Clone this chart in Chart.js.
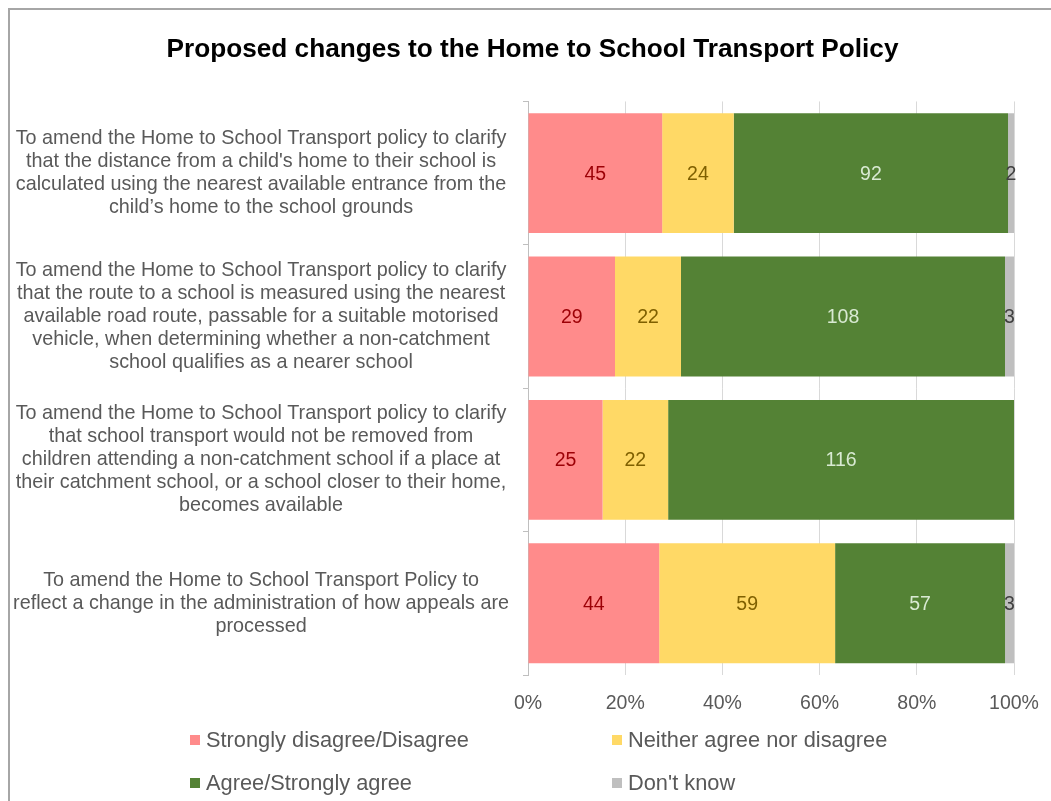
<!DOCTYPE html>
<html>
<head>
<meta charset="utf-8">
<script src="https://cdn.jsdelivr.net/npm/chart.js@4.4.1/dist/chart.umd.min.js"></script>
<style>
  html, body { margin: 0; padding: 0; background: #fff; }
  #wrap { position: relative; width: 1051px; height: 801px; overflow: hidden; }
  #frame { position: absolute; left: 8px; top: 8px; width: 1100px; height: 850px;
           border-left: 2px solid #a6a6a6; border-top: 2px solid #a6a6a6; pointer-events: none; }
  canvas { position: absolute; left: 0; top: 0; }
</style>
</head>
<body>
<div id="wrap">
  <canvas id="chart" width="1051" height="801"></canvas>
  <div id="frame"></div>
</div>
<script>
// statements (one array of lines per row)
const statements = [
  ["To amend the Home to School Transport policy to clarify",
   "that the distance from a child's home to their school is",
   "calculated using the nearest available entrance from the",
   "child\u2019s home to the school grounds"],
  ["To amend the Home to School Transport policy to clarify",
   "that the route to a school is measured using the nearest",
   "available road route, passable for a suitable motorised",
   "vehicle, when determining whether a non-catchment",
   "school qualifies as a nearer school"],
  ["To amend the Home to School Transport policy to clarify",
   "that school transport would not be removed from",
   "children attending a non-catchment school if a place at",
   "their catchment school, or a school closer to their home,",
   "becomes available"],
  ["To amend the Home to School Transport Policy to",
   "reflect a change in the administration of how appeals are",
   "processed"]
];

const seriesNames = ["Strongly disagree/Disagree", "Neither agree nor disagree", "Agree/Strongly agree", "Don't know"];

// response counts per statement
const disagree = [45, 29, 25, 44];
const neither  = [24, 22, 22, 59];
const agree    = [92, 108, 116, 57];
const dontKnow = [2, 3, 0, 3];

const xTicks = [0, 20, 40, 60, 80, 100];

const FONT = '"Liberation Sans", Arial, sans-serif';
const totals = disagree.map((v, i) => v + neither[i] + agree[i] + dontKnow[i]);
const toPct = arr => arr.map((v, i) => v / totals[i] * 100);

const fills = ['#ff8b8b', '#ffd966', '#548235', '#bfbfbf'];
const textColors = ['#9c0006', '#7f6000', '#d9ead3', '#404040'];

const counts = [disagree, neither, agree, dontKnow];

const countLabels = {
  id: 'countLabels',
  afterDatasetsDraw(chart) {
    const ctx = chart.ctx;
    ctx.save();
    ctx.font = '19.5px ' + FONT;
    ctx.textAlign = 'center';
    ctx.textBaseline = 'middle';
    chart.data.datasets.forEach((ds, i) => {
      chart.getDatasetMeta(i).data.forEach((bar, j) => {
        const n = ds.counts[j];
        if (!n) return;
        const p = bar.getCenterPoint();
        ctx.fillStyle = ds.labelColor;
        ctx.fillText(String(n), p.x, p.y + 1);
      });
    });
    ctx.restore();
  }
};

// two-column legend under the axis
const legendGrid = {
  id: 'legendGrid',
  afterDraw(chart) {
    const ctx = chart.ctx;
    const cols = [190, 612];
    const rows = [740, 783];
    ctx.save();
    ctx.font = '21.8px ' + FONT;
    ctx.textAlign = 'left';
    ctx.textBaseline = 'middle';
    chart.data.datasets.forEach((ds, i) => {
      const x = cols[i % 2], y = rows[Math.floor(i / 2)];
      ctx.fillStyle = ds.backgroundColor;
      ctx.fillRect(x, y - 5, 10, 10);
      ctx.fillStyle = '#595959';
      ctx.fillText(ds.label, x + 16, y + 1);
    });
    ctx.restore();
  }
};

new Chart(document.getElementById('chart'), {
  type: 'bar',
  data: {
    labels: statements,
    datasets: seriesNames.map((name, i) => ({
      label: name,
      data: toPct(counts[i]),
      counts: counts[i],
      labelColor: textColors[i],
      backgroundColor: fills[i],
      borderWidth: 0,
      barPercentage: 0.836,
      categoryPercentage: 1
    }))
  },
  options: {
    indexAxis: 'y',
    responsive: false,
    animation: false,
    layout: { padding: { left: 14, right: 0, top: 0, bottom: 86 } },
    plugins: {
      legend: { display: false },
      tooltip: { enabled: false },
      title: {
        display: true,
        text: 'Proposed changes to the Home to School Transport Policy',
        color: '#000',
        font: { family: FONT, size: 26.2, weight: 'bold' },
        padding: { top: 34, bottom: 36 }
      }
    },
    scales: {
      x: {
        stacked: true,
        min: 0,
        max: 100,
        afterBuildTicks: scale => { scale.ticks = xTicks.map(v => ({ value: v })); },
        afterFit: scale => { scale.height = 40; scale.paddingRight = 37; },
        grid: { color: '#d9d9d9', drawTicks: false },
        border: { display: false },
        ticks: {
          color: '#595959',
          padding: 17,
          font: { family: FONT, size: 19.5 },
          callback: v => v + '%'
        }
      },
      y: {
        stacked: true,
        afterFit: scale => { scale.width = 514; },
        grid: { drawOnChartArea: false, color: '#bfbfbf', tickLength: 5 },
        border: { color: '#bfbfbf' },
        ticks: {
          color: '#595959',
          padding: 14,
          crossAlign: 'center',
          font: { family: FONT, size: 19.8, lineHeight: '23px' }
        }
      }
    }
  },
  plugins: [countLabels, legendGrid]
});
</script>
</body>
</html>
